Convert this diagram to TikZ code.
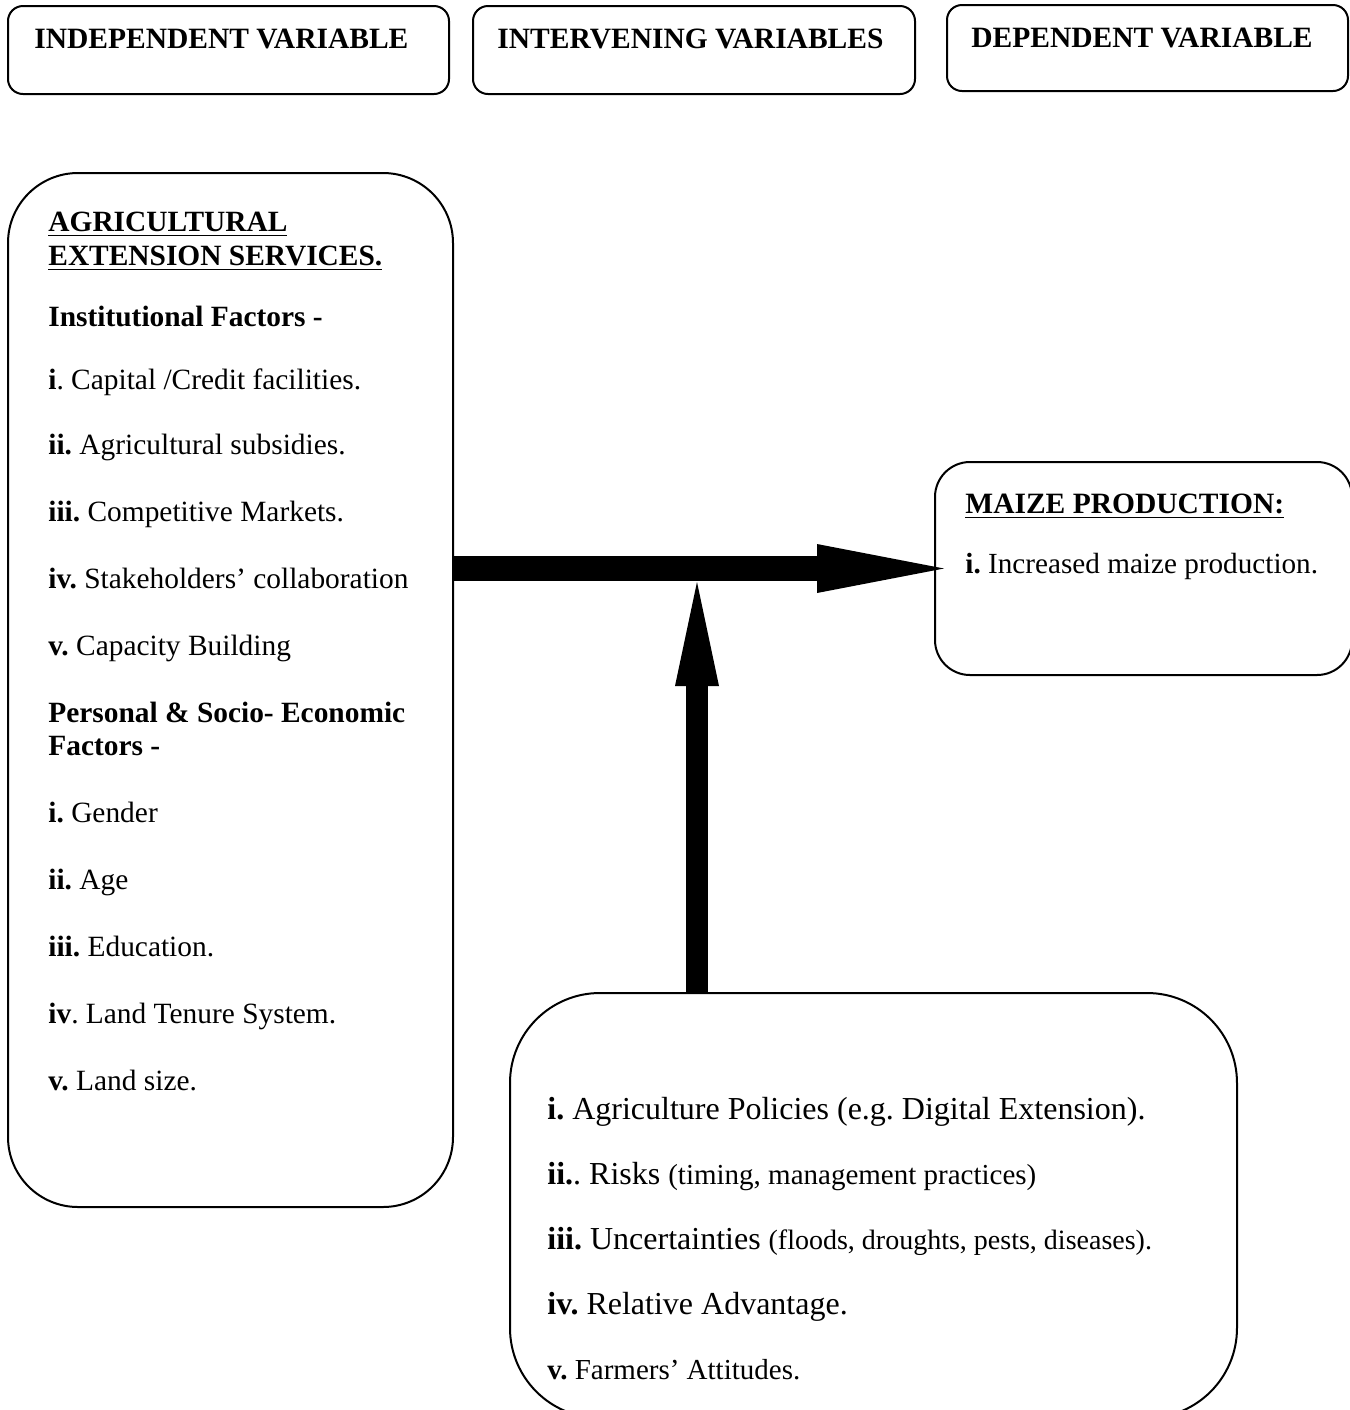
\documentclass[tikz,border=0pt]{standalone}
\usepackage{fontspec}
\setmainfont{Liberation Serif}
\usetikzlibrary{arrows.meta}
\frenchspacing

\begin{document}
\begin{tikzpicture}[x=0.5pt,y=-0.5pt,
        headbox/.style={draw,line width=1pt,rounded corners=7.5pt,inner sep=0pt},
        bigbox/.style={draw,line width=1pt,inner sep=0pt},
        headtext/.style={inner sep=0pt,anchor=base west,font=\fontsize{14.75}{17}\selectfont\bfseries},
        listtext/.style={inner sep=0pt,anchor=north west,align=left},
        fatarrow/.style={line width=12.5pt,-{Triangle[length=63.5pt,width=24.5pt,line width=0pt]}},
        uparrow/.style={line width=11pt,-{Triangle[length=52pt,width=22pt,line width=0pt]}}]
        \useasboundingbox (0,0) rectangle (1350,1410);

        \node[headbox,minimum width=220.5pt,minimum height=44pt] (indephead) at (228.5,50) {};
        \node[headbox,minimum width=221pt,minimum height=44pt] (interhead) at (694,50) {};
        \node[headbox,minimum width=200.5pt,minimum height=43pt] (dephead) at (1147.5,48) {};
        \node[headtext] (indeptitle) at ([shift={(27,43)}]indephead.north west) {INDEPENDENT VARIABLE};
        \node[headtext] (intertitle) at ([shift={(25,43)}]interhead.north west) {INTERVENING VARIABLES};
        \node[headtext] (deptitle) at ([shift={(25,43)}]dephead.north west) {DEPENDENT VARIABLE};

        \node[bigbox,rounded corners=35pt,minimum width=222.5pt,minimum height=517pt] (indep) at (230.5,690) {};
        \node[bigbox,rounded corners=17.5pt,minimum width=208.5pt,minimum height=106.5pt] (dep) at (1143.5,568.5) {};
        \node[bigbox,rounded corners=45pt,minimum width=363.5pt,minimum height=212.5pt] (inter) at (873.5,1205.5) {};

        \node[listtext,font=\fontsize{14.7}{33.5}\selectfont] (indeplist) at ([shift={(41,40)}]indep.north west) {%
            \textbf{\underline{AGRICULTURAL}}\\[-16.5pt]
            \textbf{\underline{EXTENSION SERVICES.}}\\[-3pt]
            \textbf{Institutional Factors -}\\[-2pt]
            \textbf{i}. Capital /Credit facilities.\\[-1pt]
            \textbf{ii.} Agricultural subsidies.\\
            \textbf{iii.} Competitive Markets.\\
            \textbf{iv.} Stakeholders’ collaboration\\
            \textbf{v.} Capacity Building\\
            \textbf{Personal \& Socio- Economic}\\[-17pt]
            \textbf{Factors -}\\
            \textbf{i.} Gender\\
            \textbf{ii.} Age\\
            \textbf{iii.} Education.\\
            \textbf{iv}. Land Tenure System.\\
            \textbf{v.} Land size.};

        \node[listtext,font=\fontsize{14.6}{30}\selectfont] (deplist) at ([shift={(31,33)}]dep.north west) {%
            {\fontsize{14.75}{30}\selectfont\textbf{\underline{MAIZE PRODUCTION:}}}\\
            \textbf{i.} Increased maize production.};

        \node[listtext,font=\fontsize{16}{32.5}\selectfont] (interlist) at ([shift={(38,105)}]inter.north west) {%
            \textbf{i.} Agriculture Policies (e.g. Digital Extension).\\
            \textbf{ii.}. Risks {\fontsize{14.5}{32.5}\selectfont(timing, management practices)}\\
            \textbf{iii.} Uncertainties {\fontsize{14}{32.5}\selectfont(floods, droughts, pests, diseases).}\\
            \textbf{iv.} Relative Advantage.\\
            {\fontsize{14.5}{32.5}\selectfont\textbf{v.} Farmers’ Attitudes.}};

        \coordinate (meet) at (697,582);
        \draw[fatarrow] (indep.east |- dep.west) -- ([xshift=5pt]dep.west);
        \draw[uparrow] (meet |- inter.north) -- (meet);
    \end{tikzpicture}
\end{document}
